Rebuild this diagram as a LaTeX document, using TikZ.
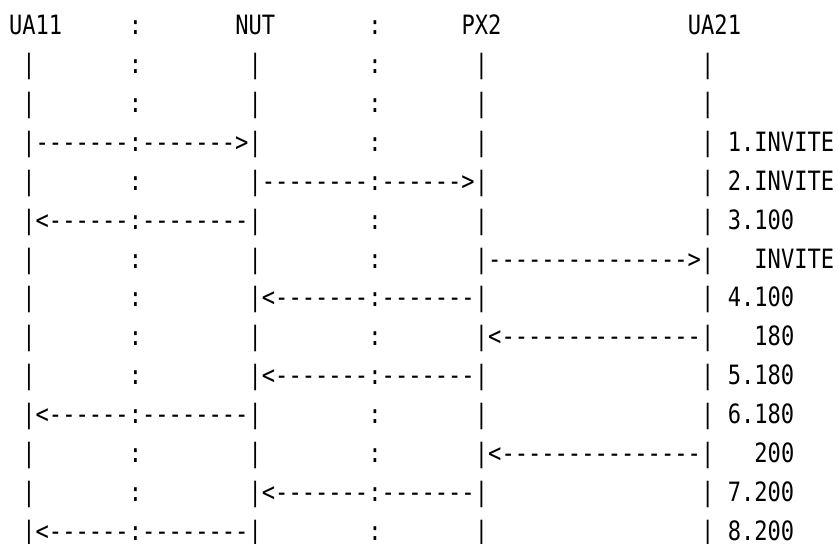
\documentclass[tikz,border=0pt]{standalone}
\usepackage{fontspec}
\newfontfamily\asciifont[FakeStretch=0.83,Ligatures=TeXOff]{DejaVu Sans Mono}
\usepackage{tikz}

\begin{document}
\begin{tikzpicture}[x=6.655pt,y=-19.425pt,
  ch/.style={anchor=base west,inner sep=0pt,font={\asciifont\fontsize{13.3pt}{16pt}\selectfont}}]
  \useasboundingbox (0,0) rectangle (62.96,13.98);
  \begin{scope}[shift={(0.65,-0.1)}]
  % header
  \node[ch] (ua11) at (0,1) {UA11};
  \node[ch] (hsep1) at (9,1) {:};
  \node[ch] (nut) at (17,1) {NUT};
  \node[ch] (hsep2) at (27,1) {:};
  \node[ch] (px2) at (34,1) {PX2};
  \node[ch] (ua21) at (51,1) {UA21};
  % lifelines and separators
  \foreach \row in {2,...,14}{
    \foreach \col in {1,18,35,52}{\node[ch] (life-\col-\row) at (\col,\row) {|};}
    \foreach \col in {9,27}{\node[ch] (sep-\col-\row) at (\col,\row) {:};}
  }
  % messages
  \foreach \row/\col/\txt in {4/2/-------,4/10/------->,
      5/19/--------,5/28/------>,
      6/2/<------,6/10/--------,
      7/36/--------------->,
      8/19/<-------,8/28/-------,
      9/36/<---------------,
      10/19/<-------,10/28/-------,
      11/2/<------,11/10/--------,
      12/36/<---------------,
      13/19/<-------,13/28/-------,
      14/2/<------,14/10/--------}{
    \node[ch] (msg-\row-\col) at (\col,\row) {\txt};
  }
  % labels
  \foreach \row/\col/\txt in {4/54/1.INVITE,5/54/2.INVITE,6/54/3.100,7/56/INVITE,
      8/54/4.100,9/56/180,10/54/5.180,11/54/6.180,12/56/200,13/54/7.200,14/54/8.200}{
    \node[ch] (lab-\row) at (\col,\row) {\txt};
  }
  \end{scope}
\end{tikzpicture}
\end{document}
